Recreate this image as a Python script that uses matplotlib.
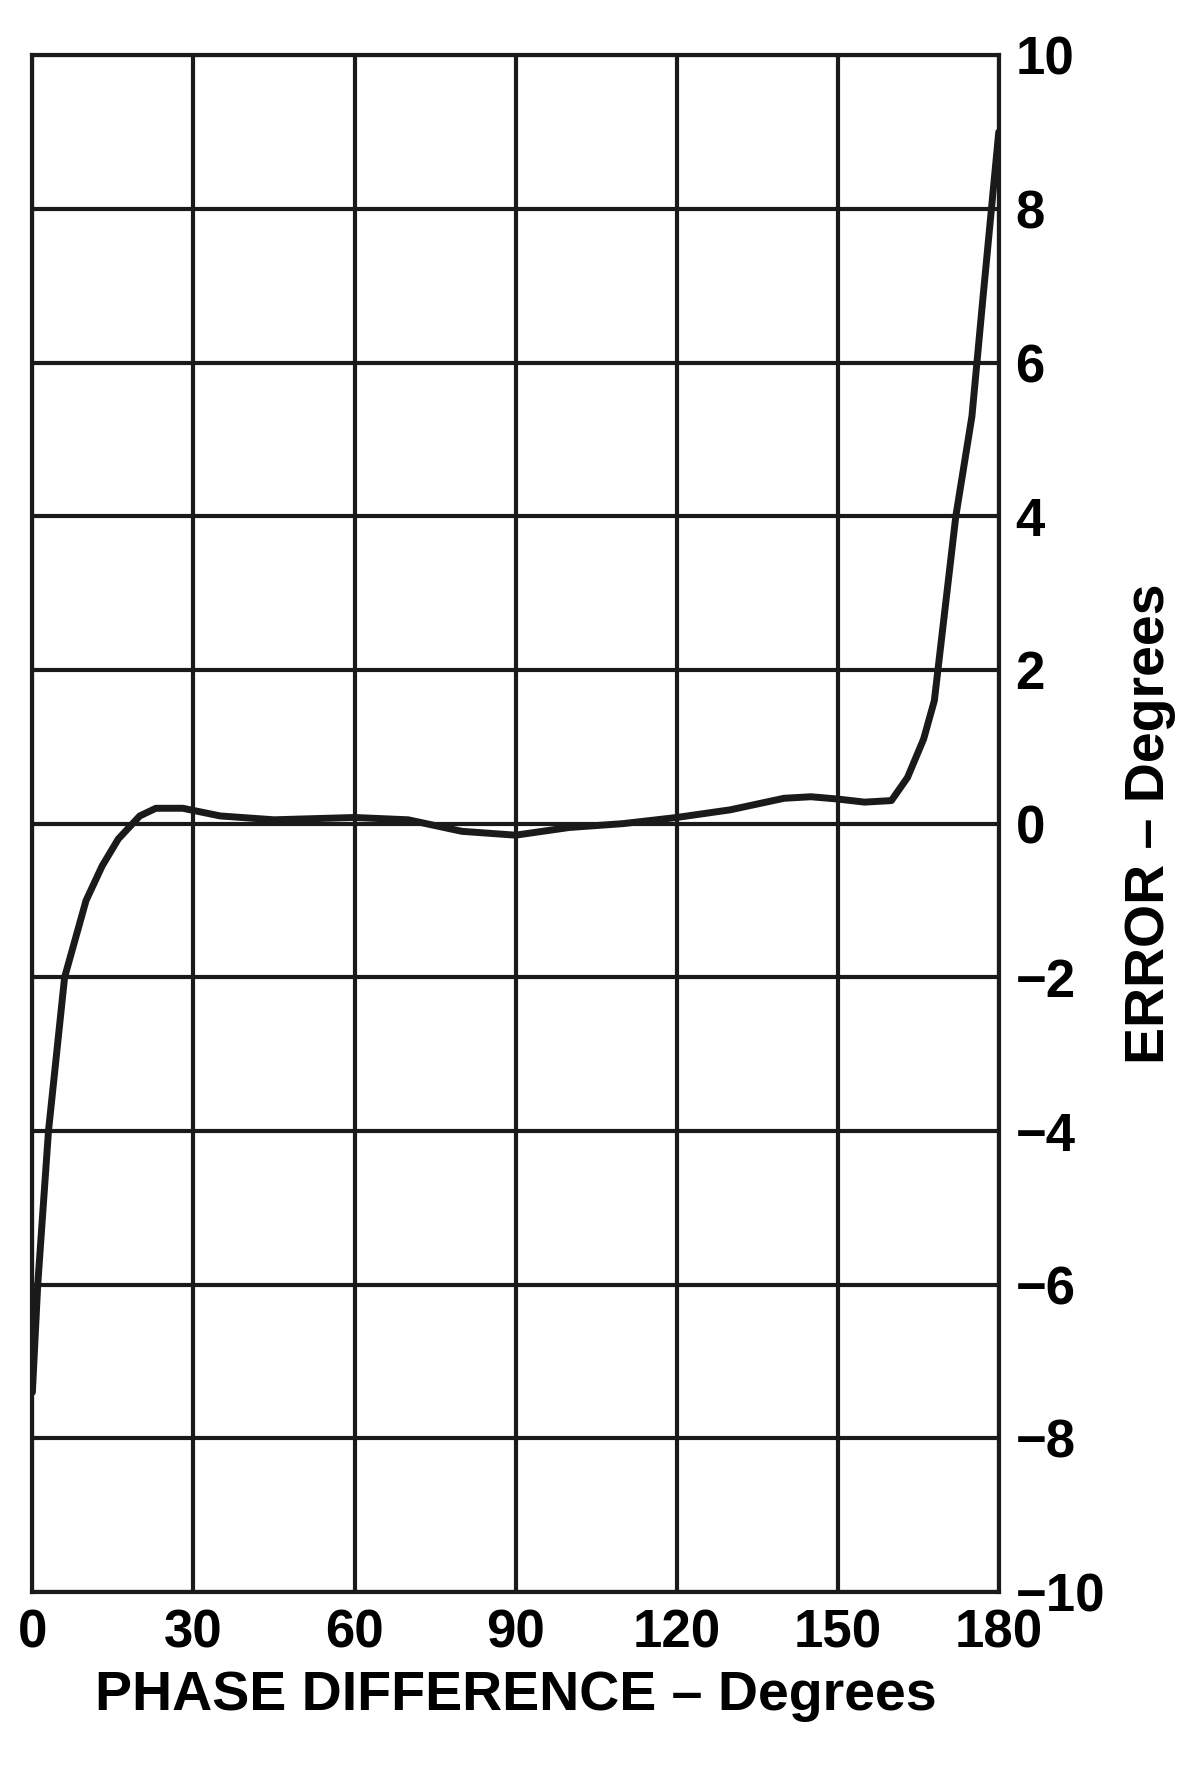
import numpy as np
import matplotlib.pyplot as plt

# values
phase = [0, 1, 3, 6, 8, 10, 13, 16, 20, 23, 28, 35, 45, 60, 70, 80, 90, 100, 110,
         120, 130, 140, 145, 150, 155, 160, 163, 166, 168, 170, 172, 175, 177, 180]
error = [-7.4, -6.0, -4.0, -2.0, -1.5, -1.0, -0.55, -0.2, 0.1, 0.2, 0.2, 0.1, 0.05,
         0.08, 0.05, -0.1, -0.15, -0.05, 0.0, 0.08, 0.18, 0.33, 0.35, 0.32, 0.28, 0.3,
         0.6, 1.1, 1.6, 2.8, 4.0, 5.3, 6.8, 9.0]
x_ticks = [0, 30, 60, 90, 120, 150, 180]
y_ticks = [-10, -8, -6, -4, -2, 0, 2, 4, 6, 8, 10]

plt.rcParams['font.family'] = ['Liberation Sans', 'DejaVu Sans']
plt.rcParams['font.weight'] = 'bold'

fig = plt.figure(figsize=(11.99, 17.77), dpi=100)
ax = fig.add_axes([0.027, 0.104, 0.806, 0.865])
ax.plot(phase, error, color='#1a1a1a', lw=5, solid_capstyle='round')

ax.set_xlim(0, 180)
ax.set_ylim(-10, 10)
ax.set_xticks(x_ticks)
ax.set_yticks(y_ticks)
ax.set_yticklabels([str(v).replace('-', '\u2212') for v in y_ticks])
ax.yaxis.tick_right()
ax.yaxis.set_label_position('right')
ax.grid(True, color='#1a1a1a', lw=3)
ax.tick_params(length=0, labelsize=38, pad=12)
for s in ax.spines.values():
    s.set_linewidth(3)
    s.set_color('#1a1a1a')

ax.set_xlabel('PHASE DIFFERENCE \u2013 Degrees', fontsize=40, fontweight='bold', labelpad=8)
ax.set_ylabel('ERROR \u2013 Degrees', fontsize=40, fontweight='bold', labelpad=14)

fig.savefig('out.png')
